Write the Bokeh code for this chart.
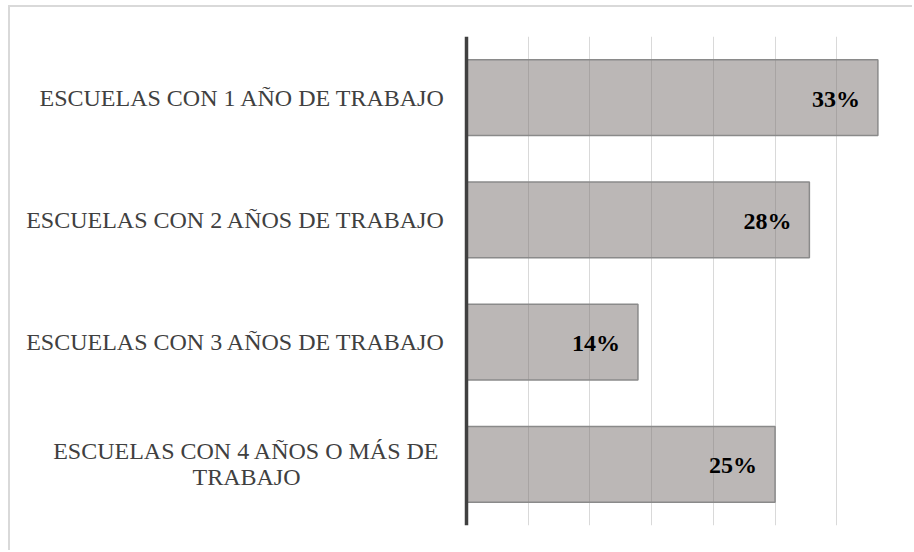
from bokeh.plotting import figure
from bokeh.models import ColumnDataSource, LabelSet, Span, FixedTicker, Range1d
from bokeh.core.properties import value
from bokeh.embed import file_html
from bokeh.resources import INLINE

categories = [
    "ESCUELAS CON 1 AÑO DE TRABAJO",
    "ESCUELAS CON 2 AÑOS DE TRABAJO",
    "ESCUELAS CON 3 AÑOS DE TRABAJO",
    "ESCUELAS CON 4 AÑOS O MÁS DE\nTRABAJO",
]
values = [33.33, 27.78, 13.89, 25.0]
value_labels = ["33%", "28%", "14%", "25%"]
x_ticks = [5, 10, 15, 20, 25, 30, 35]
x_max = 35

factors = list(reversed(categories))

src = ColumnDataSource(data=dict(
    cat=categories,
    val=values,
    lab=value_labels,
))

# geometry (pixels): label area left of the axis, plot area right of it
label_px = 456
bars_px = 432
W, H = 904, 545

p = figure(
    width=W, height=H,
    y_range=factors,
    x_range=Range1d(-x_max * label_px / bars_px, x_max),
    output_backend="svg", toolbar_location=None,
    min_border_left=0, min_border_right=W - label_px - bars_px,
    min_border_top=29, min_border_bottom=27,
)
p.styles = {"border-top": "2px solid #d9d9d9", "border-left": "2px solid #d9d9d9",
            "margin-left": "8px", "margin-top": "5px"}
p.outline_line_color = None
p.background_fill_color = "white"
p.border_fill_color = "white"

p.xaxis.visible = False
p.yaxis.visible = False
p.xgrid.ticker = FixedTicker(ticks=x_ticks)
p.xgrid.grid_line_color = "#d9d9d9"
p.xgrid.grid_line_width = 1
p.ygrid.grid_line_color = None

p.hbar(y="cat", right="val", left=0, height=0.62, source=src,
       fill_color="#77706e", fill_alpha=0.5,
       line_color="#8a8a8a", line_width=1.5)

p.add_layout(Span(location=0, dimension="height", line_color="#404040", line_width=3.5))

vals = LabelSet(x="val", y="cat", text="lab", source=src,
                text_align="right", text_baseline="middle",
                x_offset=-18, y_offset=-1,
                text_font="Liberation Serif", text_font_style="bold",
                text_font_size="24px", text_color="black")
p.add_layout(vals)

# category labels: single lines right-aligned next to the axis,
# wrapped labels centred line by line in the label area
line_gap = 26
rows = dict(cat=[], line=[], x=[], yoff=[], xoff=[], align=[])
for cat in categories:
    lines = cat.split("\n")
    n = len(lines)
    for i, line in enumerate(lines):
        rows["cat"].append(cat)
        rows["line"].append(line)
        rows["x"].append(0)
        rows["yoff"].append((i - (n - 1) / 2) * line_gap)
        rows["xoff"].append(-21 if n == 1 else -220)
        rows["align"].append("right" if n == 1 else "center")
lab_src = ColumnDataSource(data=rows)
p.text(x="x", y="cat", text="line", source=lab_src,
       x_offset="xoff", y_offset="yoff",
       text_align="align", text_baseline="middle",
       text_font=value("Liberation Serif"), text_font_size="24px",
       text_color="#404040")

open("out.html", "w").write(file_html(p, INLINE))
